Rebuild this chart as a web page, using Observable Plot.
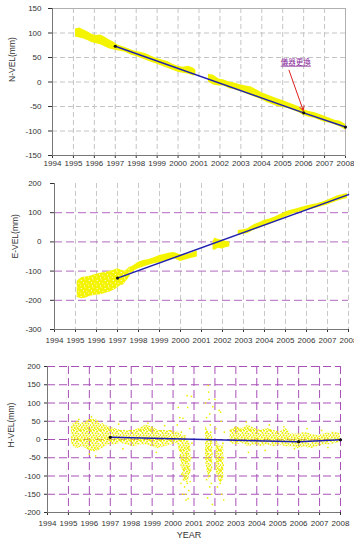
<!DOCTYPE html>
<html><head><meta charset="utf-8">
<script src="https://cdn.jsdelivr.net/npm/d3@7"></script>
<script src="https://cdn.jsdelivr.net/npm/@observablehq/plot@0.6"></script>
<style>
body{margin:0;background:#fff;}
#wrap{position:relative;width:354px;height:547px;overflow:hidden;background:#fff;}
.panel{position:absolute;left:0;}
</style></head><body>
<svg width="0" height="0" style="position:absolute;left:0;top:0">
<defs>
<pattern id="speckH" width="10" height="10" patternUnits="userSpaceOnUse">
<g fill="#eeee00">
<circle cx="1" cy="1" r="1.05"/><circle cx="4" cy="0.6" r="1.05"/><circle cx="7" cy="1.5" r="1.05"/><circle cx="9.3" cy="0.4" r="0.9"/>
<circle cx="2.5" cy="3" r="1.05"/><circle cx="5.6" cy="3.2" r="1.05"/><circle cx="8.4" cy="3.8" r="1.05"/><circle cx="0.4" cy="5" r="0.9"/>
<circle cx="3.6" cy="5.4" r="1.05"/><circle cx="6.5" cy="5.8" r="1.05"/><circle cx="9.2" cy="6.3" r="0.9"/><circle cx="1.8" cy="7.4" r="1.05"/>
<circle cx="4.8" cy="7.9" r="1.05"/><circle cx="7.6" cy="8.1" r="1.05"/><circle cx="0.6" cy="9.4" r="0.9"/><circle cx="3.2" cy="9.6" r="0.9"/>
<circle cx="6" cy="9.7" r="0.9"/><circle cx="8.8" cy="9.2" r="0.9"/>
</g>
</pattern>
<pattern id="speckE" width="8" height="8" patternUnits="userSpaceOnUse">
<rect width="8" height="8" fill="#f4f400"/>
<g fill="#fff">
<circle cx="1.2" cy="1.4" r="0.6"/><circle cx="5.1" cy="0.8" r="0.45"/><circle cx="3.4" cy="3.6" r="0.55"/>
<circle cx="6.8" cy="4.2" r="0.5"/><circle cx="0.7" cy="6.1" r="0.5"/><circle cx="4.6" cy="6.9" r="0.6"/>
</g>
</pattern>
</defs></svg>
<div id="wrap">
<div class="panel" id="p1" style="top:0"></div>
<div class="panel" id="p2" style="top:175px"></div>
<div class="panel" id="p3" style="top:350px"></div>
</div>
<script>
// ---------- shared tick labels ----------
const yearTicks = [1994,1995,1996,1997,1998,1999,2000,2001,2002,2003,2004,2005,2006,2007,2008];
const yearGrid = [1995,1996,1997,1998,1999,2000,2001,2002,2003,2004,2005,2006,2007,2008];

// ---------- N-VEL panel ----------
const nTicks = [-150,-100,-50,0,50,100,150];
const nGrid = [-100,-50,0,50,100];
const nYear = [1995.1,1995.3,1995.5,1995.7,1995.9,1996.1,1996.3,1996.5,1996.7,1996.9,1997.1,1997.3,1997.5,1997.75,1998.0,1998.25,1998.5,1998.75,1999.0,1999.25,1999.5,1999.75,2000.0,2000.25,2000.5,2000.75,2000.85,2000.9,2001.45,2001.7,2001.95,2002.2,2002.45,2002.7,2003.0,2003.25,2003.5,2003.75,2004.0,2004.25,2004.5,2004.75,2005.0,2005.25,2005.5,2005.75,2006.0,2006.25,2006.5,2006.75,2007.0,2007.25,2007.5,2007.75,2008.0];
const nLow  = [92,90,88,84,80,78,76,72,68,66,64,62,60,55,52,48,44,40,36,32,28,24,20,18,16,12,14,null,0,-6,-8,-8,-14,-16,-20,-24,-28,-32,-36,-42,-46,-50,-52,-54,-58,-62,-68,-72,-74,-78,-82,-84,-88,-92,-98];
const nHigh = [108,110,106,102,97,95,96,92,86,82,76,73,70,66,62,60,57,52,48,45,42,36,32,30,32,28,24,null,16,14,6,4,0,-2,-6,-8,-10,-16,-22,-26,-30,-34,-38,-42,-46,-50,-56,-60,-62,-66,-70,-74,-78,-80,-86];
const nFitYear = [1997,2006,2008];
const nFitVal = [73,-63,-92];
const annLabel = ["儀器更換"];
const annTextYear = [2005.62];
const annTextVal = [40];
const annFromYear = [2005.3], annFromVal = [24];
const annToYear = [2005.98], annToVal = [-58];

// ---------- E-VEL panel ----------
const eTicks = [-300,-200,-100,0,100,200];
const eGrid = [-200,-100,0,100];
const eEarlyYear = [1995.08,1995.3,1995.5,1995.7,1995.95,1996.2,1996.45,1996.7,1996.85,1997.0,1997.15,1997.3,1997.45,1997.6];
const eEarlyLow  = [-190,-195,-192,-186,-183,-181,-176,-170,-165,-158,-150,-147,-132,-119];
const eEarlyHigh = [-135,-122,-120,-118,-112,-107,-104,-100,-96,-92,-95,-100,-96,-84];
const eYear = [1997.6,1997.8,1998.0,1998.25,1998.5,1998.75,1999.0,1999.25,1999.5,1999.7,2000.0,2000.25,2000.5,2000.8,2000.9,2001.55,2001.65,2001.8,2002.0,2002.15,2002.35,2002.5,2002.75,2003.0,2003.2,2003.5,2003.75,2004.0,2004.25,2004.5,2004.75,2005.0,2005.25,2005.5,2005.75,2006.0,2006.25,2006.5,2006.75,2007.0,2007.25,2007.5,2007.75,2007.95];
const eLow  = [-112,-100,-92,-86,-80,-75,-71,-66,-60,-57,-67,-62,-57,-52,null,-28,-29,-22,-24,-20,-17,null,22,26,28,40,46,54,60,68,76,85,92,99,103,108,112,116,121,126,133,140,145,149];
const eHigh = [-88,-80,-70,-64,-60,-54,-47,-42,-38,-36,-44,-44,-40,-30,null,2,13,8,6,2,0,null,39,42,45,59,66,74,78,85,94,102,108,113,118,123,127,131,136,143,150,158,162,166];
const eFitYear = [1997,2008];
const eFitVal = [-124,162];
const eDotYear = [1997];
const eDotVal = [-124];

// ---------- H-VEL panel ----------
const hTicks = [-200,-150,-100,-50,0,50,100,150,200];
const hGrid = [-150,-100,-50,0,50,100,150,200];
const hYear = [1995.15,1995.4,1995.7,1996.0,1996.3,1996.6,1996.9,1997.2,1997.5,1997.8,1998.1,1998.4,1998.7,1999.0,1999.3,1999.6,1999.9,2000.2,2000.35,2000.5,2000.7,2000.85,2000.9,2001.55,2001.7,2001.9,2001.95,2002.0,2002.05,2002.25,2002.42,2002.5,2002.72,2003.0,2003.3,2003.6,2003.9,2004.2,2004.5,2004.8,2005.1,2005.4,2005.7,2006.0,2006.3,2006.6,2006.9,2007.2,2007.5,2007.8,2008.0];
const hLow  = [-15,-25,-20,-30,-35,-25,-15,-15,-10,-15,-20,-15,-15,-20,-25,-20,-15,-10,-40,-110,-120,-90,null,-60,-110,-80,null,null,-90,-120,-110,null,-10,-15,-10,-20,-15,-20,-15,-20,-15,-20,-20,-25,-20,-25,-20,-15,-15,-10,-10];
const hHigh = [40,50,45,55,55,45,35,30,25,25,25,30,40,35,25,25,25,20,20,10,0,-10,null,40,20,10,null,null,0,-20,-10,null,25,35,30,40,30,25,30,25,20,30,15,15,20,15,10,15,20,20,15];
const hOutliers = [
 [2000.2,40],[2000.25,88],[2000.3,-20],[2000.32,60],[2000.35,-45],[2000.38,-70],[2000.4,20],[2000.42,-95],[2000.45,-55],[2000.47,58],
 [2000.5,-110],[2000.5,-30],[2000.53,-80],[2000.55,-130],[2000.57,10],[2000.6,-60],[2000.6,-150],[2000.62,-100],[2000.65,-40],[2000.67,120],
 [2000.68,-120],[2000.7,88],[2000.7,-75],[2000.72,-162],[2000.75,-20],[2000.75,-140],[2000.78,-90],[2000.8,30],[2000.82,-115],[2000.85,-50],
 [2000.88,118],[2000.9,-10],[2000.45,-150],[2000.62,-166],[2000.38,-120],
 [2001.55,100],[2001.6,60],[2001.62,20],[2001.65,-40],[2001.68,148],[2001.7,130],[2001.72,-90],[2001.75,-130],[2001.78,40],[2001.8,-10],
 [2001.82,-60],[2001.85,-150],[2001.88,-178],[2001.9,90],[2001.6,-110],[2001.7,-20],[2001.75,70],[2001.83,-120],[2001.87,0],[2001.65,-160],
 [2001.78,-70],[2001.72,110],[2001.58,-30],[2001.66,-80],[2001.74,-100],[2001.8,20],[2001.86,-40],
 [2002.0,110],[2002.05,30],[2002.1,-20],[2002.15,-60],[2002.2,80],[2002.22,-90],[2002.25,-120],[2002.28,-40],[2002.3,50],[2002.32,-150],
 [2002.35,-100],[2002.38,-10],[2002.4,-70],[2002.42,-165],[2002.45,20],[2002.12,-130],[2002.18,-30],[2002.27,75],[2002.35,-80],[2002.4,-50],
 [1995.5,55],[1996.1,62],[1996.3,-45],[1996.0,-40],[1997.4,42],[1997.6,-25],[1998.8,45],[1999.2,-35],[1999.6,38],
 [2003.5,48],[2003.6,-35],[2004.4,-30],[2004.6,40],[2005.3,35],[2005.8,-25],[2006.4,30],[2007.1,25],[2007.4,-22]
];
const hFitYear = [1997,2006,2008];
const hFitVal = [6,-6,-1];

// ---------- helpers ----------
const FONT = "'Liberation Sans', Arial, sans-serif";
const YEL = "#f4f400";
const FIT = "#2020b0";
const rows3 = (xs, a, b) => xs.map((x, i) => ({x, a: a[i], b: b[i]}));
const rows2 = (xs, a) => xs.map((x, i) => ({x, v: a[i]}));
const style = {fontSize: "8px", fontFamily: FONT, color: "#333", background: "transparent"};
const fmt = d => String(d);

// ---------- panel 1 ----------
const ann = annLabel.map((t, i) => ({t, tx: annTextYear[i], ty: annTextVal[i], x1: annFromYear[i], y1: annFromVal[i], x2: annToYear[i], y2: annToVal[i]}));
const p1 = Plot.plot({
  width: 354, height: 175, marginTop: 8, marginBottom: 20, marginLeft: 52, marginRight: 9,
  style,
  x: {domain: [1994, 2008], ticks: yearTicks, tickFormat: fmt, tickSize: 3, tickPadding: 2, label: null},
  y: {domain: [-150, 150], ticks: nTicks, tickFormat: fmt, tickSize: 4, tickPadding: 7, label: null},
  marks: [
    Plot.ruleX(yearGrid, {stroke: "#c4c4c4", strokeDasharray: "5,3"}),
    Plot.ruleY(nGrid, {stroke: "#c4c4c4", strokeDasharray: "5,3"}),
    Plot.frame({stroke: "#b0b0b0"}),
    Plot.areaY(rows3(nYear, nLow, nHigh), {x: "x", y1: "a", y2: "b", fill: YEL}),
    Plot.line(rows2(nFitYear, nFitVal), {x: "x", y: "v", stroke: FIT, strokeWidth: 1.5}),
    Plot.dot(rows2(nFitYear, nFitVal), {x: "x", y: "v", r: 1.6, fill: "#111"}),
    Plot.ruleX([1994], {stroke: "#777"}),
    Plot.ruleY([-150], {stroke: "#777"}),
    Plot.arrow(ann, {x1: "x1", y1: "y1", x2: "x2", y2: "y2", stroke: "#e02020", strokeWidth: 1, headLength: 7}),
    Plot.text(ann, {x: "tx", y: "ty", text: "t", fill: "#8a2a9a", fontSize: 7.5, fontFamily: "'Noto Sans CJK TC', sans-serif"}),
    Plot.text(["N-VEL(mm)"], {frameAnchor: "left", text: d => d, rotate: -90, dx: -40, fontSize: 8.5, fill: "#333"})
  ]
});
d3.select(p1).selectAll("text").filter(function() { return this.textContent === annLabel[0]; }).style("text-decoration", "underline");
document.getElementById("p1").appendChild(p1);

// ---------- panel 2 ----------
const p2 = Plot.plot({
  width: 354, height: 175, marginTop: 8, marginBottom: 21, marginLeft: 54, marginRight: 6,
  style,
  x: {domain: [1994, 2008], ticks: yearTicks, tickFormat: fmt, tickSize: 3, tickPadding: 5, label: null},
  y: {domain: [-300, 200], ticks: eTicks, tickFormat: fmt, tickSize: 4, tickPadding: 9, label: null},
  marks: [
    Plot.ruleX(yearGrid, {stroke: "#c8c8c8", strokeDasharray: "5,3"}),
    Plot.ruleY(eGrid, {stroke: "#b068c0", strokeDasharray: "8,4"}),
    Plot.areaY(rows3(eEarlyYear, eEarlyLow, eEarlyHigh), {x: "x", y1: "a", y2: "b", fill: "url(#speckE)"}),
    Plot.areaY(rows3(eYear, eLow, eHigh), {x: "x", y1: "a", y2: "b", fill: YEL}),
    Plot.line(rows2(eFitYear, eFitVal), {x: "x", y: "v", stroke: FIT, strokeWidth: 1.5}),
    Plot.dot(rows2(eDotYear, eDotVal), {x: "x", y: "v", r: 1.6, fill: "#111"}),
    Plot.ruleX([1994], {stroke: "#777"}),
    Plot.ruleY([-300], {stroke: "#777"}),
    Plot.text(["E-VEL(mm)"], {frameAnchor: "left", text: d => d, rotate: -90, dx: -39, dy: 2, fontSize: 8.5, fill: "#333"})
  ]
});
document.getElementById("p2").appendChild(p2);

// ---------- panel 3 ----------
const p3 = Plot.plot({
  width: 354, height: 197, marginTop: 16, marginBottom: 35, marginLeft: 47, marginRight: 14,
  style,
  x: {domain: [1994, 2008], ticks: yearTicks, tickFormat: fmt, tickSize: 3, tickPadding: 5, label: null},
  y: {domain: [-200, 200], ticks: hTicks, tickFormat: fmt, tickSize: 3, tickPadding: 4, label: null},
  marks: [
    Plot.ruleX(yearGrid, {stroke: "#a850b8", strokeDasharray: "8,4"}),
    Plot.ruleY(hGrid, {stroke: "#a850b8", strokeDasharray: "8,4"}),
    Plot.areaY(rows3(hYear, hLow, hHigh), {x: "x", y1: "a", y2: "b", fill: "url(#speckH)"}),
    Plot.dot(hOutliers, {x: d => d[0], y: d => d[1], r: 0.85, fill: "#eeee00", stroke: "none"}),
    Plot.line(rows2(hFitYear, hFitVal), {x: "x", y: "v", stroke: FIT, strokeWidth: 1.5}),
    Plot.dot(rows2(hFitYear, hFitVal), {x: "x", y: "v", r: 1.6, fill: "#111"}),
    Plot.ruleX([1994], {stroke: "#777"}),
    Plot.ruleY([-200], {stroke: "#777"}),
    Plot.text(["H-VEL(mm)"], {frameAnchor: "left", text: d => d, rotate: -90, dx: -36, dy: 8, fontSize: 8.5, fill: "#333"}),
    Plot.text(["YEAR"], {frameAnchor: "bottom", text: d => d, dy: 25, dx: -5, fontSize: 9, fill: "#333"})
  ]
});
document.getElementById("p3").appendChild(p3);
</script>
</body></html>
